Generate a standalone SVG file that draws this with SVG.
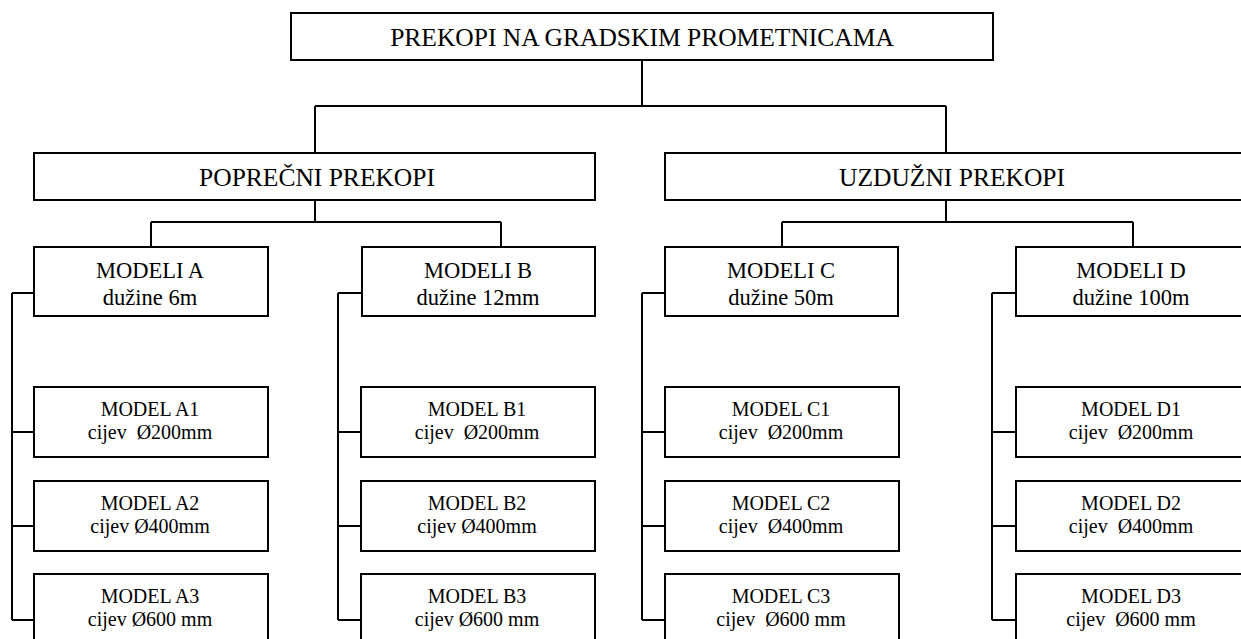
<svg xmlns="http://www.w3.org/2000/svg" width="1241" height="639" viewBox="0 0 1241 639" font-family="Liberation Serif, DejaVu Serif, serif">
<style>
rect{fill:#fff;stroke:#000;stroke-width:2}
.c path{fill:none;stroke:#000;stroke-width:2}
text{font-family:'Liberation Serif','DejaVu Serif',serif;fill:#000;text-anchor:middle;white-space:pre}
.t1{font-size:25.5px}
.t3{font-size:22.5px}
.t4{font-size:20px}
</style>
<rect x="0" y="0" width="1241" height="639" style="stroke:none"/>
<g class="c" id="connectors">
<path d="M642 60V106M315 106H946M315 106V153M946 106V153"/>
<path d="M315 200V222M151 222H501M151 222V247M501 222V247"/>
<path d="M946 200V222M782 222H1133M782 222V247M1133 222V247"/>
<path d="M12 293V620M12 293H34M12 432H34M12 526H34M12 620H34"/>
<path d="M338 293V620M338 293H362M338 432H362M338 526H362M338 620H362"/>
<path d="M642 293V620M642 293H665M642 432H665M642 526H665M642 620H665"/>
<path d="M992 293V620M992 293H1016M992 432H1016M992 526H1016M992 620H1016"/>
</g>
<g id="root"><rect x="291" y="13" width="702" height="47"/><text class="t1" x="642" y="46">PREKOPI NA GRADSKIM PROMETNICAMA</text></g>
<g id="poprecni"><rect x="34" y="153" width="561" height="47"/><text class="t1" x="317" y="186">POPREČNI PREKOPI</text></g>
<g id="uzduzni"><rect x="665" y="153" width="590" height="47"/><text class="t1" x="952" y="186">UZDUŽNI PREKOPI</text></g>
<g id="modeliA"><rect x="34" y="247" width="234" height="69"/><text class="t3" x="150" y="278">MODELI A</text><text class="t3" x="150" y="305">dužine 6m</text></g>
<g id="modeliB"><rect x="362" y="247" width="233" height="69"/><text class="t3" x="478" y="278">MODELI B</text><text class="t3" x="478" y="305">dužine 12mm</text></g>
<g id="modeliC"><rect x="665" y="247" width="233" height="69"/><text class="t3" x="781" y="278">MODELI C</text><text class="t3" x="781" y="305">dužine 50m</text></g>
<g id="modeliD"><rect x="1016" y="247" width="240" height="69"/><text class="t3" x="1131" y="278">MODELI D</text><text class="t3" x="1131" y="305">dužine 100m</text></g>
<g id="A1"><rect x="34" y="387" width="234" height="70"/><text class="t4" x="150" y="416">MODEL A1</text><text class="t4" x="150" y="439">cijev  Ø200mm</text></g>
<g id="A2"><rect x="34" y="481" width="234" height="70"/><text class="t4" x="150" y="510">MODEL A2</text><text class="t4" x="150" y="533">cijev Ø400mm</text></g>
<g id="A3"><rect x="34" y="574" width="234" height="80"/><text class="t4" x="150" y="603">MODEL A3</text><text class="t4" x="150" y="626">cijev Ø600 mm</text></g>
<g id="B1"><rect x="361" y="387" width="234" height="70"/><text class="t4" x="477" y="416">MODEL B1</text><text class="t4" x="477" y="439">cijev  Ø200mm</text></g>
<g id="B2"><rect x="361" y="481" width="234" height="70"/><text class="t4" x="477" y="510">MODEL B2</text><text class="t4" x="477" y="533">cijev Ø400mm</text></g>
<g id="B3"><rect x="361" y="574" width="234" height="80"/><text class="t4" x="477" y="603">MODEL B3</text><text class="t4" x="477" y="626">cijev Ø600 mm</text></g>
<g id="C1"><rect x="665" y="387" width="234" height="70"/><text class="t4" x="781" y="416">MODEL C1</text><text class="t4" x="781" y="439">cijev  Ø200mm</text></g>
<g id="C2"><rect x="665" y="481" width="234" height="70"/><text class="t4" x="781" y="510">MODEL C2</text><text class="t4" x="781" y="533">cijev  Ø400mm</text></g>
<g id="C3"><rect x="665" y="574" width="234" height="80"/><text class="t4" x="781" y="603">MODEL C3</text><text class="t4" x="781" y="626">cijev  Ø600 mm</text></g>
<g id="D1"><rect x="1016" y="387" width="240" height="70"/><text class="t4" x="1131" y="416">MODEL D1</text><text class="t4" x="1131" y="439">cijev  Ø200mm</text></g>
<g id="D2"><rect x="1016" y="481" width="240" height="70"/><text class="t4" x="1131" y="510">MODEL D2</text><text class="t4" x="1131" y="533">cijev  Ø400mm</text></g>
<g id="D3"><rect x="1016" y="574" width="240" height="80"/><text class="t4" x="1131" y="603">MODEL D3</text><text class="t4" x="1131" y="626">cijev  Ø600 mm</text></g>
</svg>
